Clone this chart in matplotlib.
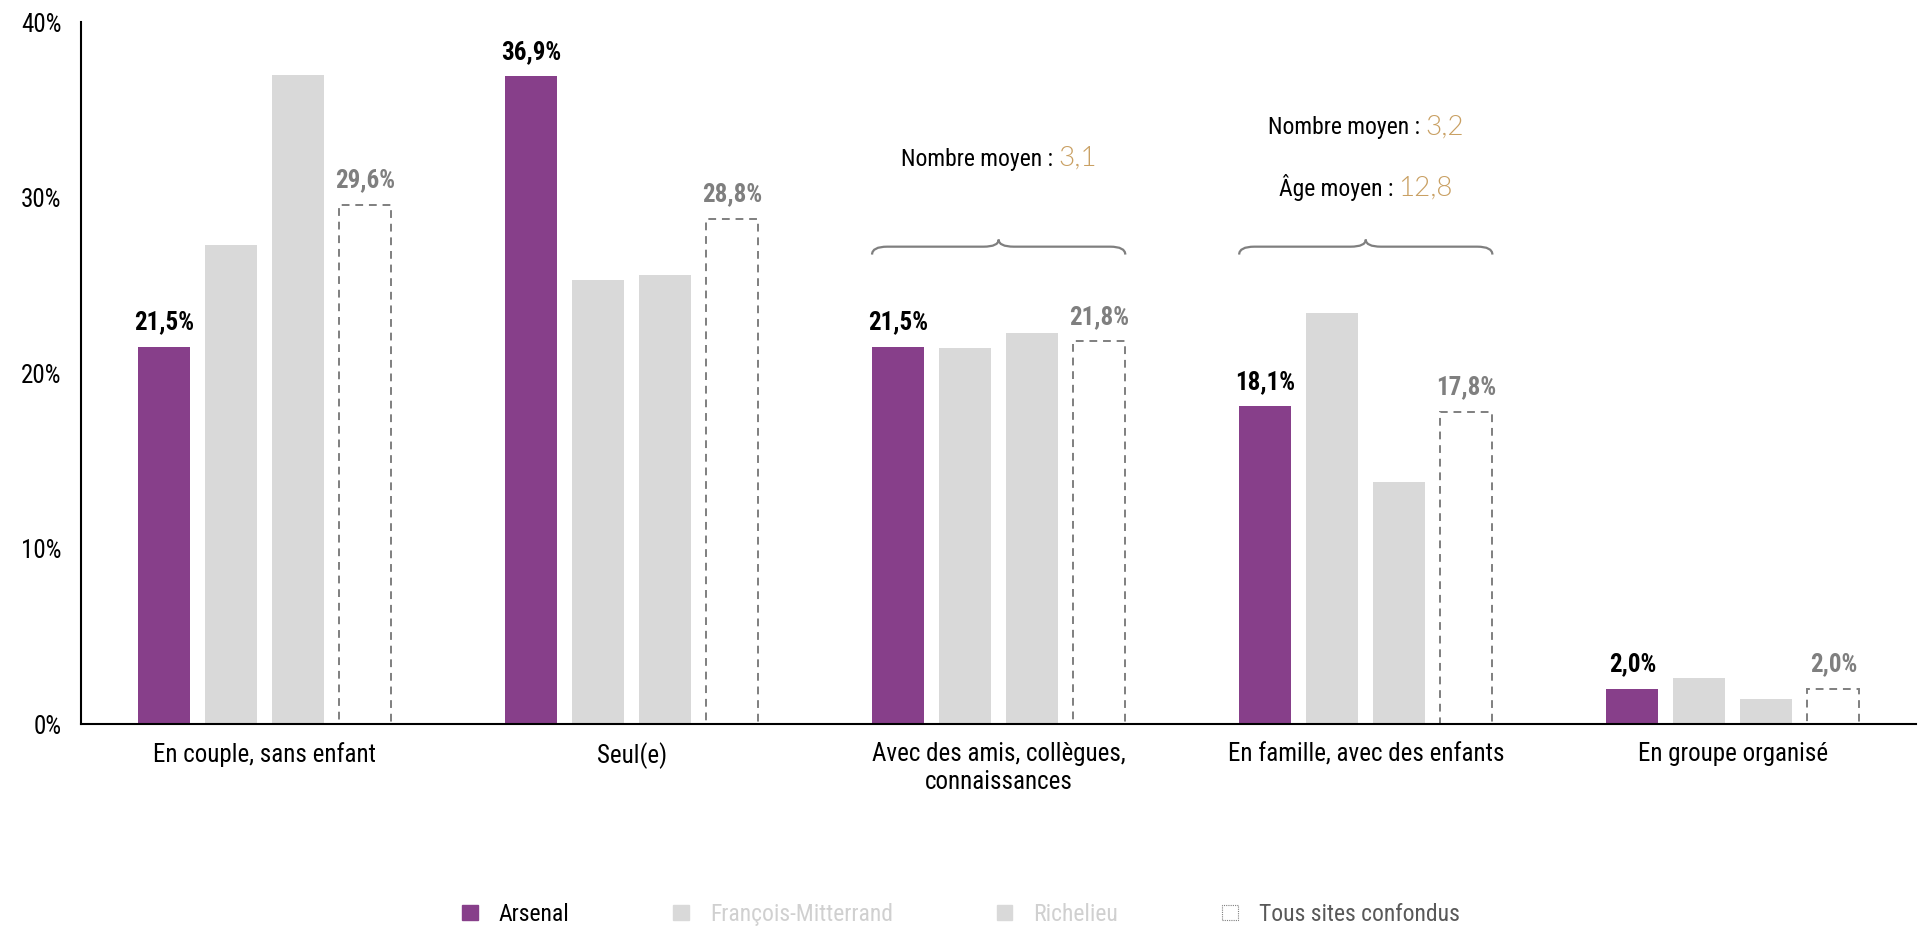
import matplotlib
matplotlib.use("Agg")
import matplotlib.pyplot as plt
import numpy as np
from matplotlib import font_manager
from matplotlib.patches import Patch, PathPatch
from matplotlib.path import Path
from matplotlib.transforms import ScaledTranslation

# ---------------- data ----------------
categories = ["En couple, sans enfant", "Seul(e)",
              "Avec des amis, collègues,\nconnaissances",
              "En famille, avec des enfants", "En groupe organisé"]
series_names = ["Arsenal", "François-Mitterrand", "Richelieu", "Tous sites confondus"]
arsenal = [21.5, 36.9, 21.5, 18.1, 2.0]
mitterrand = [27.3, 25.3, 21.4, 23.4, 2.6]
richelieu = [37.0, 25.6, 22.3, 13.8, 1.4]
tous = [29.6, 28.8, 21.8, 17.8, 2.0]
yticks = [0, 10, 20, 30, 40]
ytick_labels = ["0%", "10%", "20%", "30%", "40%"]

annot_groups = [2, 3]
annot_lines = {2: [("Nombre moyen : ", "3,1")],
               3: [("Nombre moyen : ", "3,2"), ("Âge moyen : ", "12,8")]}

# ---------------- fonts ----------------
fl = font_manager.fontManager.ttflist
names = {f.name for f in fl}
def has_bold(n):
    return any(f.name == n and f.style == "normal" and
               (f.weight if isinstance(f.weight, int) else 400) >= 700 for f in fl)
cands = ["Liberation Sans Narrow", "Roboto Condensed", "PT Sans Narrow",
         "Pragati Narrow", "Archivo Narrow", "Sofia Sans Condensed"]
base_font = next((c for c in cands if c in names and has_bold(c)), None)
if base_font is None:
    base_font = next((c for c in cands if c in names), "DejaVu Sans")
plt.rcParams["font.family"] = [base_font, "DejaVu Sans"]
num_font = "Lato" if "Lato" in names else base_font

PURPLE = "#873F8A"
GRAY = "#D9D9D9"
DASH = "#7F7F7F"
TAN = "#C9A063"
FS = 18
FS_SMALL = 17

fig = plt.figure(figsize=(19.22, 9.30), dpi=100)
ax = fig.add_axes([0.0421, 0.2215, 0.955, 0.7548])

x = np.arange(len(categories))
step = 0.1826
width = 0.142
offs = [-1.5, -0.5, 0.5, 1.5]

ax.bar(x + offs[0] * step, arsenal, width, color=PURPLE, zorder=2)
ax.bar(x + offs[1] * step, mitterrand, width, color=GRAY, zorder=2)
ax.bar(x + offs[2] * step, richelieu, width, color=GRAY, zorder=2)
ax.bar(x + offs[3] * step, tous, width, facecolor="none", edgecolor=DASH,
       linestyle=(0, (4, 3)), linewidth=1.4, zorder=2)

def fmt(v):
    return f"{v:.1f}".replace(".", ",") + "%"

for xi, v in zip(x, arsenal):
    ax.annotate(fmt(v), (xi + offs[0] * step, v), xytext=(0, 9), textcoords="offset points",
                ha="center", va="bottom", fontsize=FS, fontweight="bold", color="black")
for xi, v in zip(x, tous):
    ax.annotate(fmt(v), (xi + offs[3] * step, v), xytext=(0, 9), textcoords="offset points",
                ha="center", va="bottom", fontsize=FS, fontweight="bold", color=DASH)

ax.set_xlim(-0.5, len(categories) - 0.5)
ax.set_ylim(0, 40)
ax.set_yticks(yticks)
ax.set_yticklabels(ytick_labels, fontsize=FS)
ax.set_xticks(x)
ax.set_xticklabels(categories, fontsize=FS)
ax.tick_params(axis="both", length=0)
ax.tick_params(axis="y", pad=14)
ax.tick_params(axis="x", pad=13)
for s in ["top", "right"]:
    ax.spines[s].set_visible(False)
for s in ["left", "bottom"]:
    ax.spines[s].set_linewidth(1.5)
    ax.spines[s].set_color("black")

# ---------------- braces ----------------
def brace(x0, x1, y, h):
    xm = (x0 + x1) / 2
    d = (x1 - x0) * 0.06
    verts = [(x0, y - h), (x0, y), (x0 + d, y),
             (xm - d, y), (xm, y), (xm, y + h * 0.9),
             (xm, y), (xm + d, y),
             (x1 - d, y), (x1, y), (x1, y - h)]
    codes = [Path.MOVETO, Path.CURVE3, Path.CURVE3,
             Path.LINETO, Path.CURVE3, Path.CURVE3,
             Path.CURVE3, Path.CURVE3,
             Path.LINETO, Path.CURVE3, Path.CURVE3]
    ax.add_patch(PathPatch(Path(verts, codes), facecolor="none", edgecolor=DASH,
                           linewidth=1.6, zorder=3, clip_on=False))

for g in annot_groups:
    x0 = g + offs[0] * step - width / 2
    x1 = g + offs[3] * step + width / 2
    brace(x0, x1, 27.2, 0.45)

# ---------------- annotation texts ----------------
line_y = {2: [31.8], 3: [33.6, 30.1]}
pairs = []
for g in annot_groups:
    for (lbl, num), yy in zip(annot_lines[g], line_y[g]):
        t1 = ax.text(g, yy, lbl, fontsize=FS_SMALL, color="black", ha="left", va="baseline")
        t2 = ax.text(g, yy, num, fontsize=FS_SMALL + 3, color=TAN, ha="left", va="baseline",
                     family=num_font, fontweight=300)
        pairs.append((t1, t2))

fig.canvas.draw()
r = fig.canvas.get_renderer()
for t1, t2 in pairs:
    w1 = t1.get_window_extent(r).width
    w2 = t2.get_window_extent(r).width
    tot = w1 + w2
    t1.set_transform(ax.transData + ScaledTranslation(-tot / 2 / fig.dpi, 0, fig.dpi_scale_trans))
    t2.set_transform(ax.transData + ScaledTranslation((w1 - tot / 2) / fig.dpi, 0, fig.dpi_scale_trans))

# ---------------- legend ----------------
handles = [Patch(facecolor=PURPLE, edgecolor=PURPLE),
           Patch(facecolor=GRAY, edgecolor=GRAY),
           Patch(facecolor=GRAY, edgecolor=GRAY),
           Patch(facecolor="none", edgecolor=DASH, linestyle=(0, (1, 1)), linewidth=0.8)]
leg = fig.legend(handles, series_names, loc="center", bbox_to_anchor=(0.5, 0.017),
                 ncol=4, frameon=False, fontsize=FS_SMALL, handlelength=0.65, handleheight=0.65,
                 handletextpad=0.9, columnspacing=4.4)
text_colors = ["black", "#D0D0D0", "#D0D0D0", "#595959"]
for t, c in zip(leg.get_texts(), text_colors):
    t.set_color(c)

fig.savefig("out.png", dpi=100)
